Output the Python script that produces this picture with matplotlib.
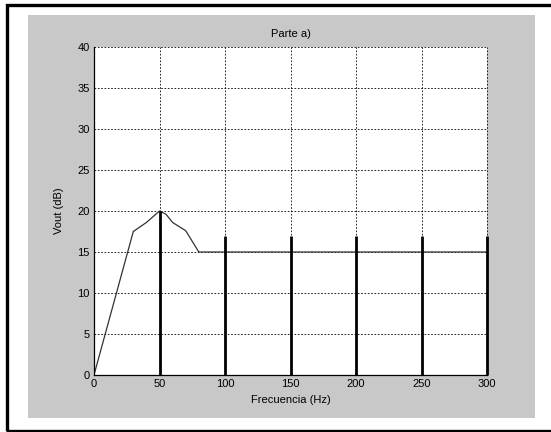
import matplotlib.pyplot as plt
from matplotlib.patches import Rectangle
import numpy as np

# datos
freq = [0, 30, 40, 50, 55, 60, 70, 80, 300]
vout = [0, 17.5, 18.6, 20, 19.6, 18.6, 17.6, 15, 15]

stem_f = [50, 100, 150, 200, 250, 300]
stem_v = [20, 17, 17, 17, 17, 17]

W, H = 551, 432
plt.rcParams['font.family'] = ['Liberation Sans', 'DejaVu Sans']
plt.rcParams['font.size'] = 8

fig = plt.figure(figsize=(W / 100, H / 100), dpi=100)
fig.patch.set_facecolor('white')

# marco negro exterior y panel gris
fig.add_artist(Rectangle((6.5 / W, 1.5 / H), 1.2, 1 - 6 / H, transform=fig.transFigure,
                         fill=False, edgecolor='black', linewidth=2.4))
fig.add_artist(Rectangle((28 / W, 1 - 418 / H), (535 - 28) / W, (418 - 15) / H,
                         transform=fig.transFigure, facecolor='#c8c8c8', edgecolor='none', zorder=0))

ax = fig.add_axes([94 / W, 1 - 375 / H, (487 - 94) / W, (375 - 47) / H])
ax.set_facecolor('white')

ax.plot(freq, vout, color='#333333', linewidth=0.9)
ax.vlines(stem_f, 0, stem_v, color='black', linewidth=2, clip_on=False)

ax.set_xlim(0, 300)
ax.set_ylim(0, 40)
ax.set_xticks(np.arange(0, 301, 50))
ax.set_yticks(np.arange(0, 41, 5))
ax.grid(True, color='black', linestyle=(0, (2, 2)), linewidth=0.6, clip_on=False)
ax.tick_params(direction='in', length=0, pad=3, labelsize=8)
ax.spines['top'].set_visible(False)
ax.spines['right'].set_visible(False)
for s in ['left', 'bottom']:
    ax.spines[s].set_linewidth(0.9)

ax.set_title('Parte a)', fontsize=8, pad=7)
ax.set_xlabel('Frecuencia (Hz)', fontsize=8, labelpad=4)
ax.set_ylabel('Vout (dB)', fontsize=8, labelpad=10)

fig.savefig('out.png', dpi=100)
